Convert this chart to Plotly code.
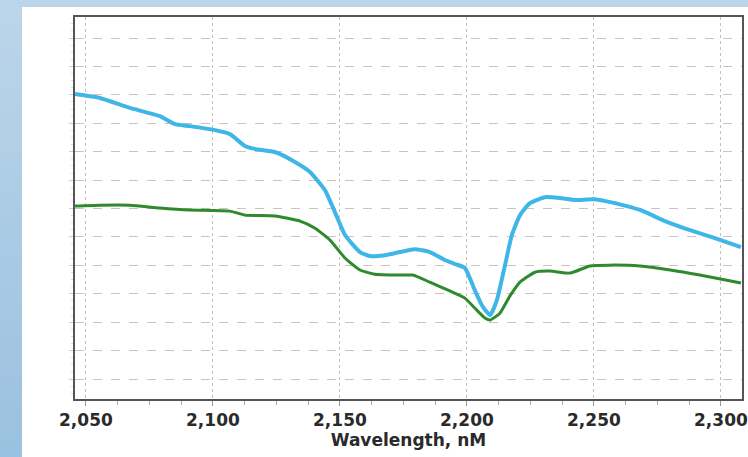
import plotly.graph_objects as go

# Wavelength (nM) and relative spectral values (arbitrary units, 1 unit = one gridline)
blue_wl = [2045.7, 2055.5, 2067.3, 2079.1, 2085.0, 2090.9, 2100.8, 2106.7, 2112.6, 2116.5,
           2124.4, 2132.3, 2138.2, 2144.1, 2148.0, 2152.0, 2157.9, 2161.8, 2167.7, 2173.6,
           2179.5, 2185.4, 2191.3, 2195.3, 2199.2, 2203.1, 2205.9, 2209.1, 2211.8, 2215.0,
           2217.7, 2220.9, 2224.8, 2230.7, 2236.6, 2242.5, 2250.4, 2258.3, 2268.1, 2278.0,
           2287.8, 2297.6, 2307.9]
blue_val = [10.03, 9.89, 9.54, 9.25, 8.97, 8.90, 8.76, 8.62, 8.20, 8.10,
            7.99, 7.64, 7.29, 6.65, 5.88, 5.07, 4.47, 4.33, 4.36, 4.47,
            4.57, 4.47, 4.19, 4.05, 3.91, 3.13, 2.60, 2.25, 2.78, 4.01,
            5.07, 5.77, 6.19, 6.40, 6.37, 6.30, 6.33, 6.19, 5.95, 5.56,
            5.24, 4.96, 4.64]

green_wl = [2045.7, 2055.5, 2067.3, 2079.1, 2090.9, 2106.7, 2112.6, 2124.4, 2134.3, 2140.2,
            2146.1, 2152.0, 2157.9, 2163.8, 2173.6, 2178.7, 2185.4, 2193.3, 2199.2, 2203.1,
            2207.1, 2209.1, 2213.0, 2216.9, 2220.9, 2226.8, 2232.7, 2240.6, 2248.4, 2256.3,
            2268.1, 2280.0, 2291.7, 2307.9]
green_val = [6.09, 6.12, 6.12, 6.02, 5.95, 5.91, 5.77, 5.74, 5.56, 5.31,
             4.89, 4.26, 3.84, 3.69, 3.66, 3.66, 3.41, 3.10, 2.85, 2.50,
             2.15, 2.08, 2.32, 2.92, 3.41, 3.76, 3.80, 3.73, 3.98, 4.01,
             3.98, 3.84, 3.66, 3.38]

x_ticks = [2050, 2100, 2150, 2200, 2250, 2300]
x_ticklabels = ["2,050", "2,100", "2,150", "2,200", "2,250", "2,300"]

W, H = 748, 457
L, R, T, B = 75, 6, 17, 58
pw, ph = W - L - R, H - T - B

def px(xp):
    return (xp - L) / pw

def py(yp):
    return (H - B - yp) / ph

fig = go.Figure()
fig.add_trace(go.Scatter(x=blue_wl, y=blue_val, mode="lines",
                         line=dict(color="#3fb6e8", width=4, shape="spline", smoothing=0.5),
                         showlegend=False, hoverinfo="skip"))
fig.add_trace(go.Scatter(x=green_wl, y=green_val, mode="lines",
                         line=dict(color="#2e8a2c", width=3, shape="spline", smoothing=0.5),
                         showlegend=False, hoverinfo="skip"))

shapes = []
# white panel
shapes.append(dict(type="rect", xref="paper", yref="paper", layer="below",
                   x0=px(22), x1=px(W + 2), y0=py(H + 2), y1=py(7),
                   fillcolor="white", line=dict(width=0)))
# left gradient strip
n = 30
c0 = (0xBB, 0xD5, 0xEA)
c1 = (0x9A, 0xC1, 0xDF)
for i in range(n):
    t = i / (n - 1)
    c = tuple(round(c0[k] + (c1[k] - c0[k]) * t) for k in range(3))
    y_top = i * H / n
    y_bot = (i + 1) * H / n + 1
    shapes.append(dict(type="rect", xref="paper", yref="paper", layer="below",
                       x0=px(-2), x1=px(22), y0=py(y_bot), y1=py(y_top),
                       fillcolor="rgb(%d,%d,%d)" % c, line=dict(width=0)))

fig.update_layout(
    width=W, height=H,
    margin=dict(l=L, r=R, t=T, b=B, autoexpand=False),
    paper_bgcolor="#bbd5ea",
    plot_bgcolor="white",
    shapes=shapes,
    font=dict(family="DejaVu Sans", color="#2a2a2a"),
)
fig.update_xaxes(
    automargin=False,
    range=[2045.7, 2308.3],
    tickvals=x_ticks, ticktext=x_ticklabels,
    tickfont=dict(size=17, family="DejaVu Sans", weight="bold", color="#2a2a2a"),
    ticks="outside", ticklen=5, tickcolor="#999999",
    minor=dict(dtick=12.5, tick0=2050, ticks="outside", ticklen=4, tickcolor="#aaaaaa", showgrid=False),
    showgrid=True, gridcolor="#c8bcbc", griddash="dot", gridwidth=1,
    showline=True, linecolor="#555555", linewidth=2, mirror=True,
    zeroline=False,
    title=dict(text="Wavelength, nM", font=dict(size=17, family="DejaVu Sans", weight="bold", color="#2a2a2a"),
               standoff=3),
)
fig.update_yaxes(
    automargin=False,
    range=[-0.70, 12.74],
    dtick=1, tick0=0, showticklabels=False,
    ticks="outside", ticklen=4, tickcolor="#cccccc",
    minor=dict(dtick=0.25, ticks="outside", ticklen=2, tickcolor="#dddddd", showgrid=False),
    showgrid=True, gridcolor="#cdc1c1", griddash="dash", gridwidth=1,
    showline=True, linecolor="#555555", linewidth=2, mirror=True,
    zeroline=False,
)

fig.write_html("out.html", config={"displayModeBar": False},
               post_script="document.body.style.margin='0';document.body.style.overflow='hidden';")
